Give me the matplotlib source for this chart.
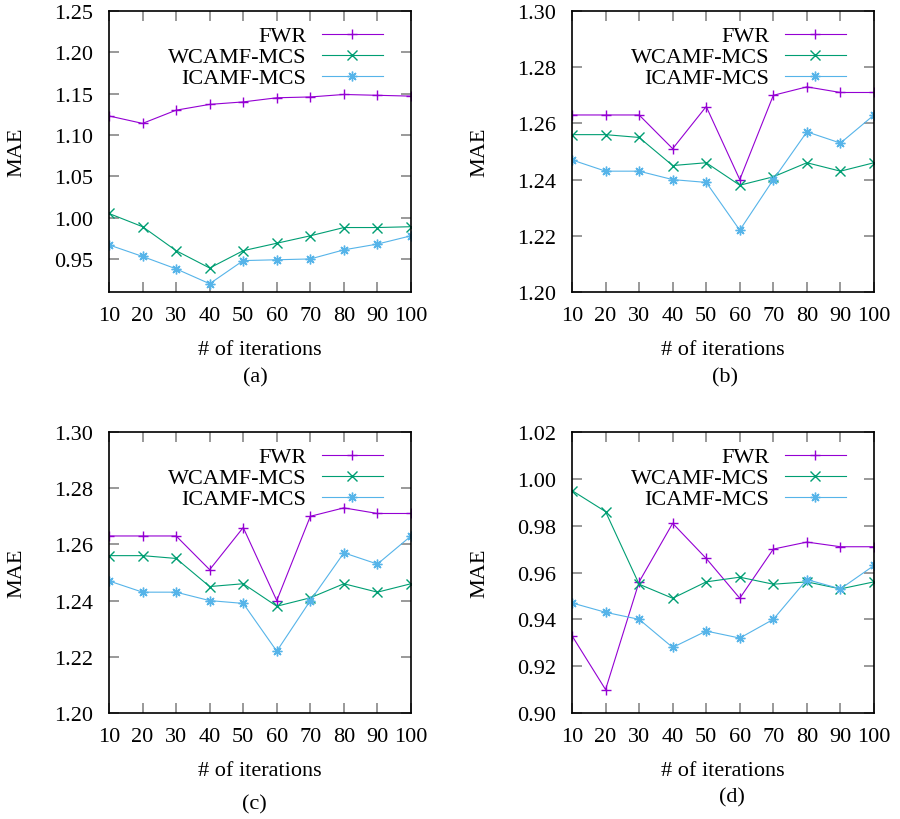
import matplotlib
matplotlib.use('Agg')
import matplotlib.pyplot as plt

iters = [10, 20, 30, 40, 50, 60, 70, 80, 90, 100]
labels = ['FWR', 'WCAMF-MCS', 'ICAMF-MCS']

# panel (a)
fwr_a = [1.123, 1.114, 1.130, 1.137, 1.140, 1.145, 1.146, 1.149, 1.148, 1.147]
wcamf_a = [1.005, 0.989, 0.960, 0.939, 0.960, 0.969, 0.978, 0.988, 0.988, 0.989]
icamf_a = [0.967, 0.953, 0.938, 0.920, 0.948, 0.949, 0.950, 0.961, 0.968, 0.978]

# panel (b)
fwr_b = [1.263, 1.263, 1.263, 1.251, 1.266, 1.240, 1.270, 1.273, 1.271, 1.271]
wcamf_b = [1.256, 1.256, 1.255, 1.245, 1.246, 1.238, 1.241, 1.246, 1.243, 1.246]
icamf_b = [1.247, 1.243, 1.243, 1.240, 1.239, 1.222, 1.240, 1.257, 1.253, 1.263]

# panel (c)
fwr_c = [1.263, 1.263, 1.263, 1.251, 1.266, 1.240, 1.270, 1.273, 1.271, 1.271]
wcamf_c = [1.256, 1.256, 1.255, 1.245, 1.246, 1.238, 1.241, 1.246, 1.243, 1.246]
icamf_c = [1.247, 1.243, 1.243, 1.240, 1.239, 1.222, 1.240, 1.257, 1.253, 1.263]

# panel (d)
fwr_d = [0.933, 0.910, 0.956, 0.981, 0.966, 0.949, 0.970, 0.973, 0.971, 0.971]
wcamf_d = [0.995, 0.986, 0.955, 0.949, 0.956, 0.958, 0.955, 0.956, 0.953, 0.956]
icamf_d = [0.947, 0.943, 0.940, 0.928, 0.935, 0.932, 0.940, 0.957, 0.953, 0.963]

yticks_a = [0.95, 1.00, 1.05, 1.10, 1.15, 1.20, 1.25]
yticks_b = [1.20, 1.22, 1.24, 1.26, 1.28, 1.30]
yticks_d = [0.90, 0.92, 0.94, 0.96, 0.98, 1.00, 1.02]

colors = ['#9400d3', '#009e73', '#56b4e9']
markers = ['+', 'x', (8, 2, 0)]

plt.rcParams['font.family'] = ['Liberation Serif', 'DejaVu Serif']
FS = 16

fig = plt.figure(figsize=(9, 8.2), dpi=100)
W, H = 900.0, 820.0

# axes box in pixels, tag position (axes coords)
panels = [
    ((109, 12, 411, 293), [fwr_a, wcamf_a, icamf_a], (0.91, 1.25), yticks_a, '(a)', (0.485, -0.302)),
    ((572, 12, 874, 293), [fwr_b, wcamf_b, icamf_b], (1.20, 1.30), yticks_b, '(b)', (0.505, -0.302)),
    ((109, 433, 411, 714), [fwr_c, wcamf_c, icamf_c], (1.20, 1.30), yticks_b, '(c)', (0.48, -0.322)),
    ((572, 433, 874, 714), [fwr_d, wcamf_d, icamf_d], (0.90, 1.02), yticks_d, '(d)', (0.53, -0.299)),
]

for (x0, y0, x1, y1), series, ylim, yticks, tag, tagpos in panels:
    ax = fig.add_axes([x0 / W, 1 - y1 / H, (x1 - x0) / W, (y1 - y0) / H])
    for vals, lab, c, m in zip(series, labels, colors, markers):
        ax.plot(iters, vals, color=c, lw=0.8, marker=m, markersize=7,
                markeredgewidth=1.0, label=lab)
    ax.set_xlim(10, 100)
    ax.set_ylim(*ylim)
    ax.set_xticks(iters)
    ax.set_yticks(yticks)
    ax.set_yticklabels(['%.2f' % v for v in yticks])
    ax.tick_params(direction='in', length=7, width=1.2, color='#888888',
                   top=True, right=True, labelsize=FS)
    ax.tick_params(axis='x', pad=10)
    ax.tick_params(axis='y', pad=11.5)
    for s in ax.spines.values():
        s.set_linewidth(1.2)
    ax.set_ylabel('MAE', fontsize=FS, va='center')
    ax.yaxis.set_label_coords(-0.305, 0.5)
    ax.set_xlabel('# of iterations', fontsize=FS, va='center')
    ax.xaxis.set_label_coords(0.5, -0.205)
    ax.text(tagpos[0], tagpos[1], tag, transform=ax.transAxes, fontsize=FS,
            ha='center', va='center')
    ax.legend(loc='upper right', frameon=False, markerfirst=False,
              handlelength=2.75, handletextpad=0.7, labelspacing=0.02,
              borderaxespad=0, borderpad=0, fontsize=FS,
              bbox_to_anchor=(0.907, 0.947))

fig.savefig('out.png', dpi=100)
